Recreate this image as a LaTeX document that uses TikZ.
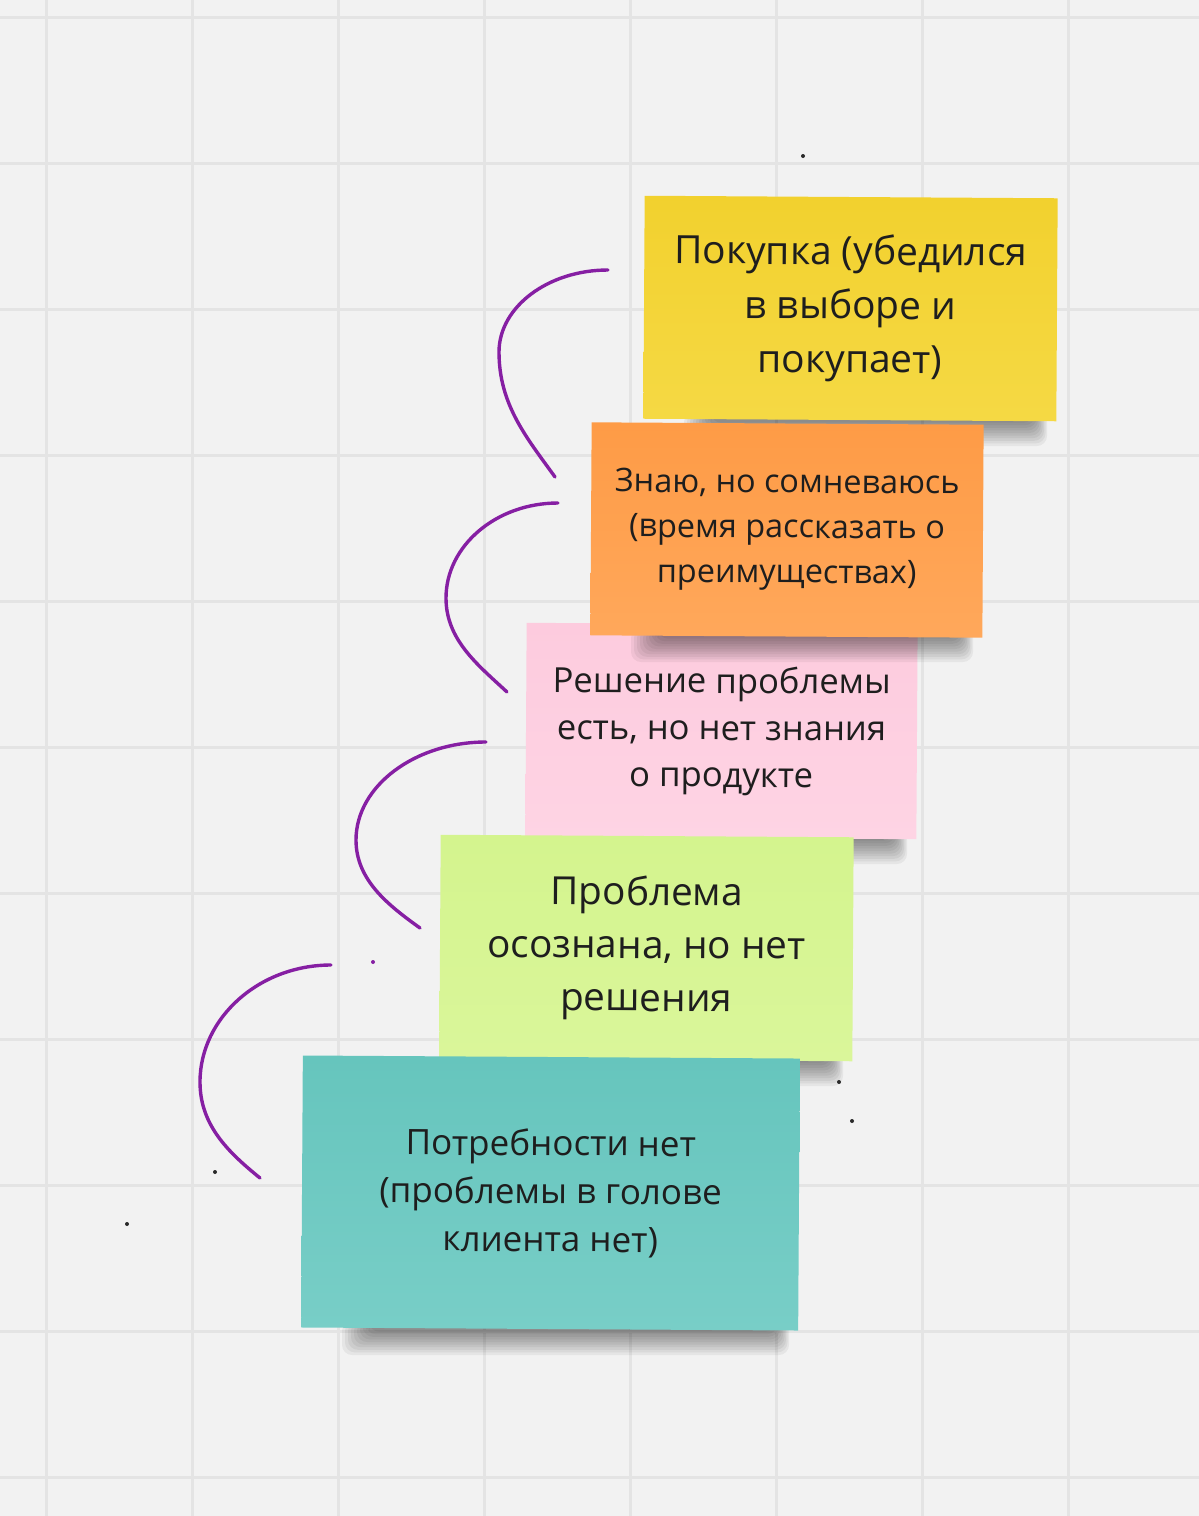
\documentclass[tikz,border=0pt]{standalone}
\usepackage{fontspec}
\setmainfont{Open Sans}
\definecolor{bg}{HTML}{F2F2F2}
\definecolor{gridc}{HTML}{E4E4E4}
\definecolor{txt}{HTML}{1E1E1E}
\definecolor{purp}{HTML}{861FA3}
\definecolor{yelA}{HTML}{F2D12E}
\definecolor{yelB}{HTML}{F5D944}
\definecolor{oraA}{HTML}{FE9B46}
\definecolor{oraB}{HTML}{FFA85B}
\definecolor{pinA}{HTML}{FDCBDE}
\definecolor{pinB}{HTML}{FED4E4}
\definecolor{greA}{HTML}{D4F48E}
\definecolor{greB}{HTML}{DAF69A}
\definecolor{teaA}{HTML}{66C5BD}
\definecolor{teaB}{HTML}{78CEC7}
\definecolor{dotc}{HTML}{2A2A2A}
\newcommand\mynoteshadow[3]{%
  \foreach \i in {0,...,9}{%
    \fill[black, opacity=0.05, rounded corners=10pt]
      ({#1+40+3*\i},{#3-8}) rectangle ({#2-10-1.5*\i},{#3+26-2.6*\i});
  }}
\begin{document}
\begin{tikzpicture}[x=1pt,y=-1pt,
  notebase/.style={inner sep=0pt, align=center, text=txt, rotate=-0.35},
  curve/.style={draw=purp, line width=3.4pt, line cap=round}]
\useasboundingbox (0,0) rectangle (1199,1516);
\fill[bg] (0,0) rectangle (1199,1516);
% grid
\foreach \k in {0,...,7}{\draw[gridc, line width=3pt] ({46.5+146*\k},0) -- ({46.5+146*\k},1516);}
\foreach \k in {0,...,10}{\draw[gridc, line width=3pt] (0,{17+146*\k}) -- (1199,{17+146*\k});}
% notes
\mynoteshadow{644}{1057}{420}
\node[notebase, minimum width=413pt, minimum height=223pt, top color=yelA, bottom color=yelB,
  font=\fontsize{38.9}{54}\selectfont] (buy) at (850.5,308.5) {Покупка (убедился\\в выборе и\\покупает)};
\mynoteshadow{526}{917}{838}
\node[notebase, minimum width=391pt, minimum height=214pt, top color=pinA, bottom color=pinB,
  font=\fontsize{34.6}{47}\selectfont] (sol) at (721.5,731) {Решение проблемы\\есть, но нет знания\\о продукте};
\mynoteshadow{591}{983}{636}
\node[notebase, minimum width=392pt, minimum height=213pt, top color=oraA, bottom color=oraB,
  font=\fontsize{32.4}{45}\selectfont] (doubt) at (787,530) {Знаю, но сомневаюсь\\(время рассказать о\\преимуществах)};
\mynoteshadow{440}{853}{1060}
\node[notebase, minimum width=413pt, minimum height=224pt, top color=greA, bottom color=greB,
  font=\fontsize{38.7}{53}\selectfont] (prob) at (646.5,948) {Проблема\\осознана, но нет\\решения};
\mynoteshadow{302}{799}{1329}
\node[notebase, minimum width=497pt, minimum height=272pt, top color=teaA, bottom color=teaB,
  font=\fontsize{35}{48}\selectfont] (need) at (550.5,1193) {Потребности нет\\(проблемы в голове\\клиента нет)};
% curves
\coordinate (s1) at (608,270); \coordinate (l1) at (499,352); \coordinate (e1) at (555,477);
\coordinate (s2) at (558,503); \coordinate (l2) at (446,598); \coordinate (e2) at (507,692);
\coordinate (s3) at (486,742); \coordinate (l3) at (356,840); \coordinate (e3) at (420,928);
\coordinate (s4) at (331,965); \coordinate (l4) at (200,1082); \coordinate (e4) at (260,1178);
\draw[curve] (s1) .. controls (548,270) and (499,307) .. (l1) .. controls (499,405) and (527,438) .. (e1);
\draw[curve] (s2) .. controls (496,503) and (446,546) .. (l2) .. controls (446,640) and (478,665) .. (e2);
\draw[curve] (s3) .. controls (415,742) and (356,786) .. (l3) .. controls (356,880) and (388,905) .. (e3);
\draw[curve] (s4) .. controls (259,965) and (200,1018) .. (l4) .. controls (200,1125) and (228,1152) .. (e4);
% dots
\fill[dotc] (803,156) circle (2pt);
\fill[purp] (373,962) circle (2pt);
\fill[dotc] (839,1082) circle (2pt);
\fill[dotc] (852,1121) circle (2pt);
\fill[dotc] (215,1172) circle (2pt);
\fill[dotc] (127,1224) circle (2pt);
\end{tikzpicture}
\end{document}
